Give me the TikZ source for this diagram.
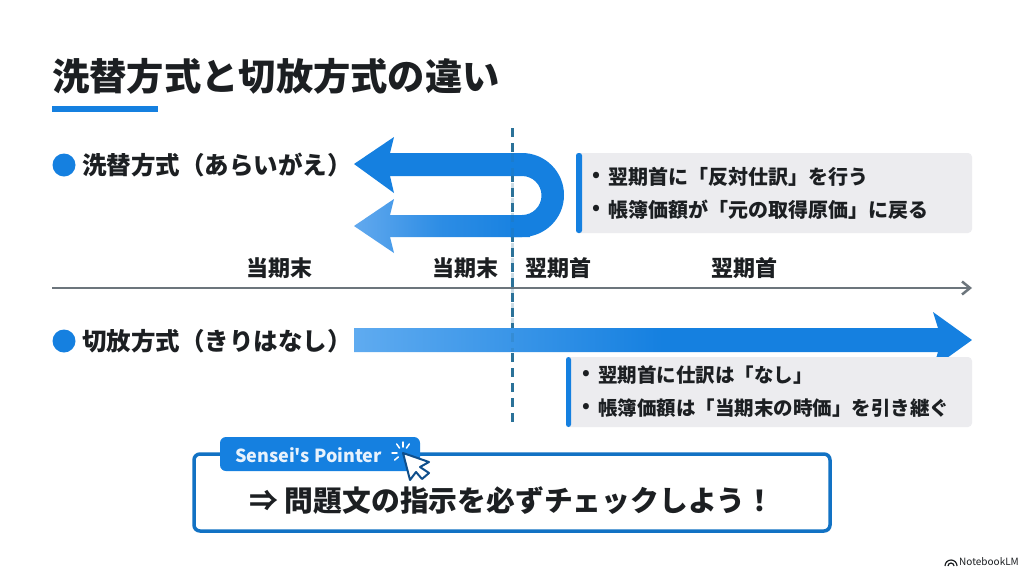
\documentclass[tikz,border=0pt]{standalone}
\usepackage{fontspec}
\setmainfont{Noto Sans CJK JP}
\newfontfamily\tagfont{Noto Sans CJK JP}
\usepackage{xcolor}
\usetikzlibrary{calc,arrows.meta,positioning}

\definecolor{mainblue}{HTML}{1580E0}
\definecolor{lightblue}{HTML}{62A9EE}
\definecolor{paleblue}{HTML}{5FABF0}
\definecolor{darkblue}{HTML}{1272C4}
\definecolor{navyblue}{HTML}{0F4F8C}
\definecolor{inkblack}{HTML}{1C1F22}
\definecolor{axisgray}{HTML}{6C757C}
\definecolor{panelgray}{HTML}{ECECEF}
\definecolor{dashblue}{HTML}{2B7299}

\pgfdeclarehorizontalshading{longfade}{100bp}{color(0bp)=(paleblue); color(25bp)=(paleblue); color(50bp)=(mainblue); color(100bp)=(mainblue)}

\newcommand{\fsize}[1]{\fontsize{#1}{#1}\selectfont}

\tikzset{
    heading/.style={font=\fsize{24.5}\bfseries, text=inkblack, anchor=west, inner sep=0pt},
    period/.style={font=\fsize{22}\bfseries, text=inkblack, inner sep=0pt},
    note/.style={font=\fsize{20}\bfseries, text=inkblack, anchor=west, inner sep=0pt},
    notesmall/.style={font=\fsize{19.5}\bfseries, text=inkblack, anchor=west, inner sep=0pt},
    panel/.style={fill=panelgray, rounded corners=4pt},
    dot/.style={circle, fill=mainblue, minimum size=23pt, inner sep=0pt},
    boundary/.style={dashblue, line width=3pt, dash pattern=on 9pt off 6pt},
}

\begin{document}
\begin{tikzpicture}[x=1pt, y=-1pt]
\useasboundingbox (0,0) rectangle (1024,576);
\fill[white] (0,0) rectangle (1024,576);

% Title
\node[font=\fsize{37.3}\bfseries, text=inkblack, anchor=west, inner sep=0pt] (title) at (52, 76) {洗替方式と切放方式の違い};
\fill[mainblue] (52, 106) rectangle (158, 112);

% Period boundary, under the arrows
\coordinate (lineT) at (512, 128);
\coordinate (lineB) at (512, 425);
\draw[boundary] (lineT) -- (lineB);

% Upper row
\node[dot] (dotA) at (64, 165) {};
\node[heading] (headA) at (82, 165) {洗替方式（あらいがえ）};

% U-turn arrow, lower branch first
\shade[left color=lightblue, right color=mainblue, middle color=mainblue!70!lightblue]
    (354, 226) -- (394, 199) -- (390, 215) -- (530, 215) -- (530, 237) -- (390, 237) -- (394, 253) -- cycle;
\fill[mainblue] (354, 164) -- (394, 137) -- (390, 153) -- (522, 153)
    arc[start angle=-90, end angle=90, radius=42] -- (510, 237) -- (510, 215) -- (522, 215)
    arc[start angle=90, end angle=-90, radius=19.5] -- (390, 176) -- (394, 193) -- cycle;

% Upper note
\fill[panel] (576, 153) rectangle (972, 233);
\fill[mainblue, rounded corners=2.5pt] (576, 153) rectangle (582, 233);
\node[note] (bulletA) at (592, 177) {•};
\node[note] (noteA) at (608, 177) {翌期首に「反対仕訳」を行う};
\node[note] (bulletB) at (592, 210) {•};
\node[note] (noteB) at (608, 210) {帳簿価額が「元の取得原価」に戻る};

% Time axis
\node[period] (endA) at (279, 268) {当期末};
\node[period] (endB) at (465, 268) {当期末};
\node[period] (startA) at (558, 268) {翌期首};
\node[period] (startB) at (744, 268) {翌期首};
\coordinate (axisL) at (52, 288);
\coordinate (axisR) at (972, 288);
\draw[axisgray, line width=2.5pt, -{Straight Barb[length=8pt, width=13pt]}] (axisL) -- (axisR);

% Lower row
\node[dot] (dotB) at (64, 341) {};
\node[heading] (headB) at (82, 341) {切放方式（きりはなし）};
\shade[shading=longfade]
    (354, 328) -- (938, 328) -- (933, 312) -- (972, 340) -- (933, 368) -- (938, 352) -- (354, 352) -- cycle;

% Lower note
\fill[panel] (566, 357) rectangle (972, 427);
\fill[mainblue, rounded corners=2.5pt] (566, 357) rectangle (571, 427);
\node[notesmall] (bulletC) at (582, 375) {•};
\node[notesmall] (noteC) at (598, 375) {翌期首に仕訳は「なし」};
\node[notesmall] (bulletD) at (582, 408) {•};
\node[notesmall] (noteD) at (598, 408) {帳簿価額は「当期末の時価」を引き継ぐ};

% Boundary again, faint over the arrows
\draw[boundary, opacity=.25] (512, 153) -- (512, 352);

% Pointer box
\draw[darkblue, line width=3.5pt, rounded corners=6pt, fill=white] (194, 454) rectangle (830, 531);
\node[font=\fsize{28.8}\bfseries, text=inkblack, inner sep=0pt] (pointerText) at (512, 501) {⇒ 問題文の指示を必ずチェックしよう！};
\fill[mainblue, rounded corners=6pt] (220, 437) rectangle (420, 471);
\node[font=\tagfont\fsize{18}\bfseries, text=white!90!mainblue, anchor=west, inner sep=0pt] (pointerTag) at (235, 455) {Sensei's Pointer};

% Sparks and cursor
\foreach \ang in {-90, -125, -55, 180, 140}
    \draw[white, line width=1.5pt, line cap=round] ($(403,453)+(\ang:6)$) -- ($(403,453)+(\ang:11)$);
\draw[navyblue, line width=2pt, line join=round, fill=white]
    (403, 453) -- (429, 462) -- (420, 467) -- (429, 473) -- (422, 479) -- (416, 472) -- (410, 480) -- cycle;

% Watermark
\draw[inkblack, line width=1.2pt] (945, 566) arc[start angle=180, end angle=360, radius=6];
\draw[inkblack, line width=1.2pt] (948, 566) arc[start angle=180, end angle=360, radius=3];
\node[font=\fsize{10}, text=inkblack, anchor=west, inner sep=0pt] (brand) at (959, 562) {NotebookLM};

\end{tikzpicture}
\end{document}
